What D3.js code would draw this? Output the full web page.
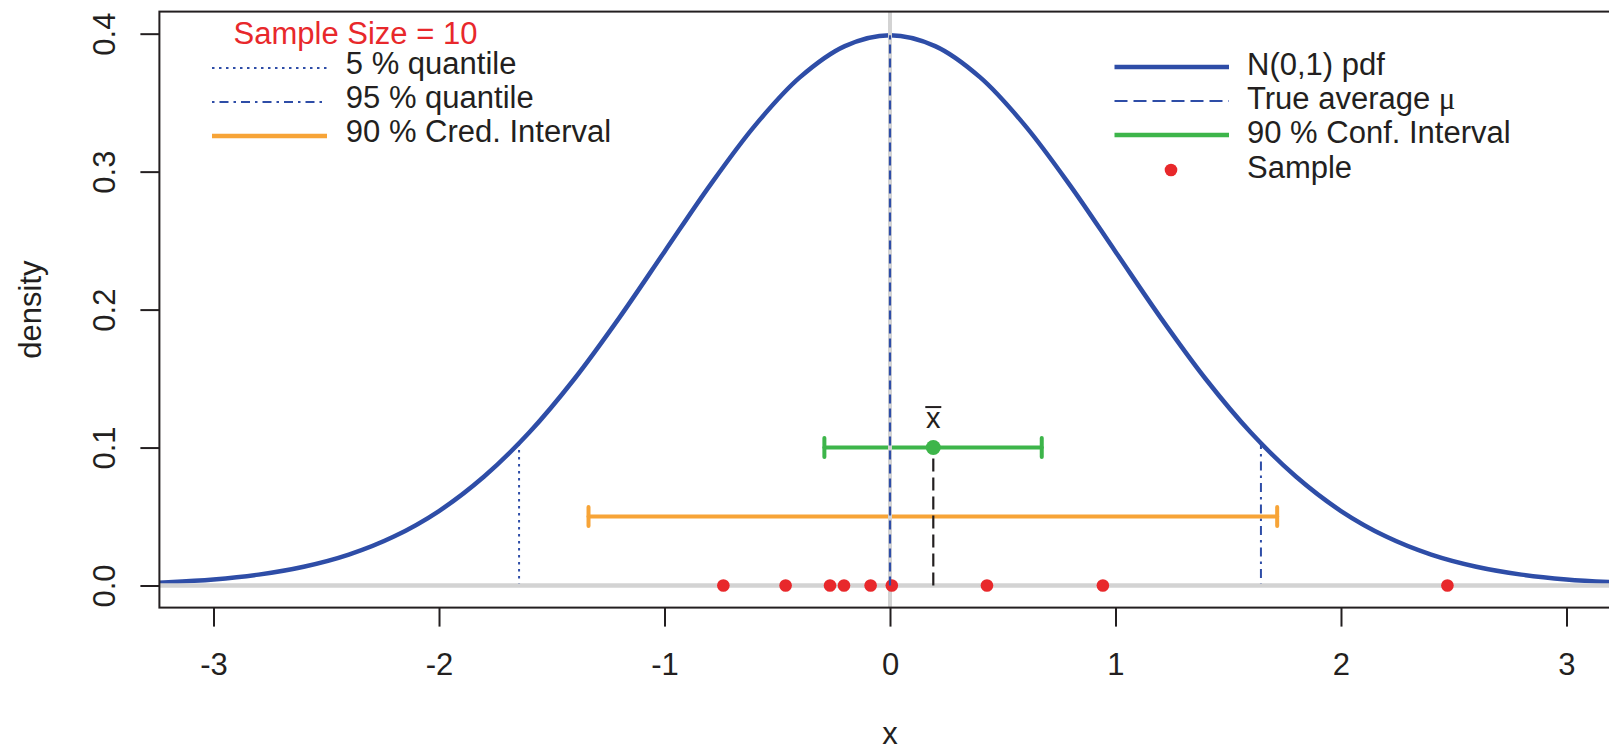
<!DOCTYPE html>
<html><head><meta charset="utf-8">
<script src="https://cdn.jsdelivr.net/npm/d3@7"></script>
<style>
body{margin:0;background:#fff}
svg{display:block}
text{font-family:"Liberation Sans",Arial,Helvetica,sans-serif;fill:#231F20;font-size:31px}
</style>
</head><body>
<svg id="chart" width="1609" height="752"></svg>
<script>
// ---- data ----
const pdfX = [-3.4,-3.2,-3.0,-2.8,-2.6,-2.4,-2.2,-2.0,-1.8,-1.6,-1.4,-1.2,-1.0,-0.8,-0.6,-0.4,-0.2,0.0,0.2,0.4,0.6,0.8,1.0,1.2,1.4,1.6,1.8,2.0,2.2,2.4,2.6,2.8,3.0,3.2,3.4];
const pdfY = [0.0012,0.0024,0.0044,0.0079,0.0136,0.0224,0.0355,0.0540,0.0790,0.1109,0.1497,0.1942,0.2420,0.2897,0.3332,0.3683,0.3910,0.3989,0.3910,0.3683,0.3332,0.2897,0.2420,0.1942,0.1497,0.1109,0.0790,0.0540,0.0355,0.0224,0.0136,0.0079,0.0044,0.0024,0.0012];
const sample = [-0.739,-0.463,-0.266,-0.204,-0.086,0.008,0.430,0.944,2.472];
const xbar = 0.192;
const xbarLevel = 0.1;
const confInterval = [-0.291, 0.673];
const credInterval = [-1.337, 1.717];
const credLevel = 0.05;
const quantiles = [-1.645, 1.645];
const quantileDensity = 0.103;
const mu = 0;
const muDensity = 0.3989;
const xTicks = [-3,-2,-1,0,1,2,3];
const yTicks = [0,0.1,0.2,0.3,0.4];
const xTickLabels = ["-3","-2","-1","0","1","2","3"];
const yTickLabels = ["0.0","0.1","0.2","0.3","0.4"];
const leftLegend = ["5 % quantile","95 % quantile","90 % Cred. Interval"];
const rightLegend = ["N(0,1) pdf","True average ","90 % Conf. Interval","Sample"];
const titleText = "Sample Size = 10";

// ---- styles ----
const C = {blue:"#2E4DA7", red:"#E8282B", green:"#3DB54A", orange:"#F7A437", gray:"#D3D3D3", ink:"#231F20"};
const FONT = '"Liberation Sans",Arial,Helvetica,sans-serif';

const svg = d3.select("#chart");
const x = d3.scaleLinear().domain([-3.24, 3.24]).range([159.4, 1620.6]);
const y = d3.scaleLinear().domain([-0.016, 0.416]).range([607.6, 11.6]);

svg.append("defs").append("clipPath").attr("id","clip")
  .append("rect").attr("x",x.range()[0]).attr("y",y.range()[1])
  .attr("width",x.range()[1]-x.range()[0]).attr("height",y.range()[0]-y.range()[1]);

const plot = svg.append("g").attr("clip-path","url(#clip)");

// normal curve
const pts = pdfX.map((d,i)=>[d,pdfY[i]]);
plot.append("path").datum(pts)
  .attr("d", d3.line().x(d=>x(d[0])).y(d=>y(d[1])).curve(d3.curveCatmullRom.alpha(0.5)))
  .attr("fill","none").attr("stroke",C.blue).attr("stroke-width",4.5);

// quantile lines
plot.append("line").attr("x1",x(quantiles[0])).attr("x2",x(quantiles[0]))
  .attr("y1",y(0)).attr("y2",y(quantileDensity))
  .attr("stroke",C.blue).attr("stroke-width",2).attr("stroke-dasharray","2.5,4.5");
plot.append("line").attr("x1",x(quantiles[1])).attr("x2",x(quantiles[1]))
  .attr("y1",y(0)).attr("y2",y(quantileDensity))
  .attr("stroke",C.blue).attr("stroke-width",2).attr("stroke-dasharray","2.5,5,9,5");

// intervals
function interval(lo, hi, lev, col){
  const g = plot.append("g").attr("stroke",col).attr("stroke-width",4).attr("stroke-linecap","round");
  g.append("line").attr("x1",x(lo)).attr("x2",x(hi)).attr("y1",y(lev)).attr("y2",y(lev));
  g.append("line").attr("x1",x(lo)).attr("x2",x(lo)).attr("y1",y(lev)-9.5).attr("y2",y(lev)+9.5);
  g.append("line").attr("x1",x(hi)).attr("x2",x(hi)).attr("y1",y(lev)-9.5).attr("y2",y(lev)+9.5);
}
interval(credInterval[0], credInterval[1], credLevel, C.orange);
interval(confInterval[0], confInterval[1], xbarLevel, C.green);

// gray reference lines
plot.append("line").attr("x1",x.range()[0]).attr("x2",x.range()[1]).attr("y1",y(0)).attr("y2",y(0))
  .attr("stroke",C.gray).attr("stroke-width",4.5);
plot.append("line").attr("x1",x(mu)).attr("x2",x(mu)).attr("y1",y.range()[0]).attr("y2",y.range()[1])
  .attr("stroke",C.gray).attr("stroke-width",4);

// xbar dashed
plot.append("line").attr("x1",x(xbar)).attr("x2",x(xbar)).attr("y1",y(0)).attr("y2",y(xbarLevel))
  .attr("stroke",C.ink).attr("stroke-width",2.2).attr("stroke-dasharray","13,6");

// sample points
plot.selectAll("circle.s").data(sample).join("circle").attr("class","s")
  .attr("cx",d=>x(d)).attr("cy",y(0)).attr("r",6.3).attr("fill",C.red);

// true average
plot.append("line").attr("x1",x(mu)).attr("x2",x(mu)).attr("y1",y(0)).attr("y2",y(muDensity))
  .attr("stroke",C.blue).attr("stroke-width",2.2).attr("stroke-dasharray","9,5");

// xbar point and label
plot.append("circle").attr("cx",x(xbar)).attr("cy",y(xbarLevel)).attr("r",7.5).attr("fill",C.green);
svg.append("text").attr("x",x(xbar)).attr("y",y(xbarLevel)-19.5).attr("text-anchor","middle")
  .style("font-size","29px").text("x");
svg.append("line").attr("x1",x(xbar)-8).attr("x2",x(xbar)+8)
  .attr("y1",y(xbarLevel)-40.5).attr("y2",y(xbarLevel)-40.5)
  .attr("stroke",C.ink).attr("stroke-width",2);

// box
svg.append("rect").attr("x",x.range()[0]).attr("y",y.range()[1])
  .attr("width",x.range()[1]-x.range()[0]).attr("height",y.range()[0]-y.range()[1])
  .attr("fill","none").attr("stroke",C.ink).attr("stroke-width",2);

// axes
const xAxis = svg.append("g").attr("transform",`translate(0,${y.range()[0]})`)
  .call(d3.axisBottom(x).tickValues(xTicks).tickSize(19).tickFormat((d,i)=>xTickLabels[i]));
xAxis.select(".domain").remove();
xAxis.selectAll("line").attr("stroke",C.ink).attr("stroke-width",2);
xAxis.selectAll("text").attr("y",67).attr("dy",null)
  .style("font-family",FONT).style("font-size","31px").attr("fill",C.ink);

const yAxis = svg.append("g").attr("transform",`translate(${x.range()[0]},0)`)
  .call(d3.axisLeft(y).tickValues(yTicks).tickSize(19).tickFormat((d,i)=>yTickLabels[i]));
yAxis.select(".domain").remove();
yAxis.selectAll("line").attr("stroke",C.ink).attr("stroke-width",2);
yAxis.selectAll("text").attr("x",null).attr("dy",null).attr("text-anchor","middle")
  .attr("transform",`translate(${115-x.range()[0]},0) rotate(-90)`)
  .style("font-family",FONT).style("font-size","31px").attr("fill",C.ink);

// axis titles
svg.append("text").attr("x",x(0)).attr("y",744).attr("text-anchor","middle").text("x");
svg.append("text").attr("transform",`translate(41,${(y.range()[0]+y.range()[1])/2}) rotate(-90)`)
  .attr("text-anchor","middle").text("density");

// left legend
const lg = svg.append("g");
lg.append("text").attr("x",355.5).attr("y",43.5).attr("text-anchor","middle").style("fill",C.red).text(titleText);
const lRows = [68,102,136];
const lStyles = [
  {col:C.blue, w:2, dash:"2.5,4.5"},
  {col:C.blue, w:2, dash:"2.5,5,9,5"},
  {col:C.orange, w:4.5, dash:null}
];
leftLegend.forEach((t,i)=>{
  const l = lg.append("line").attr("x1",212).attr("x2",327).attr("y1",lRows[i]).attr("y2",lRows[i])
    .attr("stroke",lStyles[i].col).attr("stroke-width",lStyles[i].w);
  if(lStyles[i].dash) l.attr("stroke-dasharray",lStyles[i].dash);
  lg.append("text").attr("x",345.8).attr("y",lRows[i]+6).text(t);
});

// right legend
const rg = svg.append("g");
const rRows = [67,101,135,170];
const rStyles = [
  {col:C.blue, w:4.5, dash:null},
  {col:C.blue, w:2, dash:"13,6"},
  {col:C.green, w:4.5, dash:null},
  null
];
rightLegend.forEach((t,i)=>{
  if(rStyles[i]){
    const l = rg.append("line").attr("x1",1114.5).attr("x2",1229).attr("y1",rRows[i]).attr("y2",rRows[i])
      .attr("stroke",rStyles[i].col).attr("stroke-width",rStyles[i].w);
    if(rStyles[i].dash) l.attr("stroke-dasharray",rStyles[i].dash);
  } else {
    rg.append("circle").attr("cx",1171).attr("cy",rRows[i]).attr("r",6.3).attr("fill",C.red);
  }
  const tx = rg.append("text").attr("x",1247).attr("y",rRows[i]+8).text(t);
  if(i===1) tx.append("tspan").style("font-family",'"Liberation Serif","DejaVu Serif",serif').text("μ");
});
</script>
</body></html>
